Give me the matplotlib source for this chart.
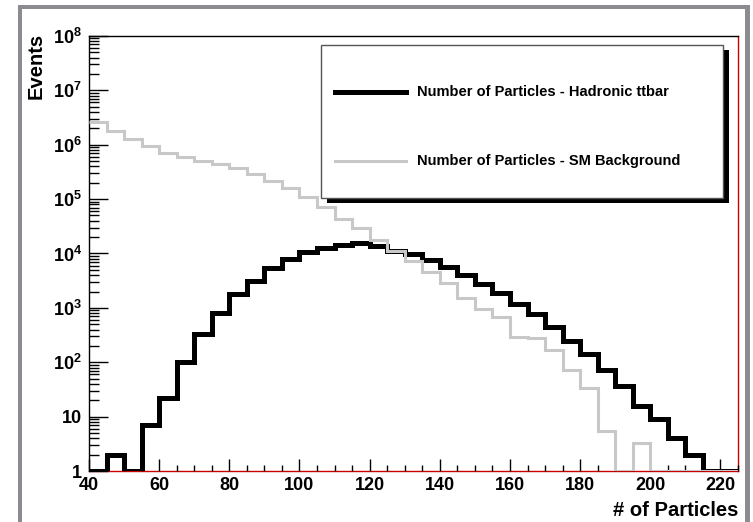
import numpy as np
import matplotlib
matplotlib.use("Agg")
from matplotlib import pyplot as plt
from matplotlib.patches import Rectangle
from matplotlib.lines import Line2D
from matplotlib.ticker import FixedLocator, FuncFormatter, LogLocator, NullFormatter, MultipleLocator

plt.rcParams['font.family'] = ['Liberation Sans', 'DejaVu Sans']
plt.rcParams['font.weight'] = 'bold'
plt.rcParams['mathtext.fontset'] = 'custom'
plt.rcParams['mathtext.rm'] = 'Liberation Sans:bold'
plt.rcParams['mathtext.bf'] = 'Liberation Sans:bold'

# bin edges (number of particles), 5 wide
edges = np.arange(40, 230, 5)

# hadronic ttbar
ttbar = [0, 2, 0, 7, 22, 102, 325, 790, 1800, 3100,
         5300, 7800, 10700, 12700, 14200, 15400, 13900, 11200, 9900, 7600,
         5700, 4100, 2800, 1900, 1170, 760, 450, 245, 141, 72,
         36, 16, 9, 4, 2, 0, 0]

# SM background
background = [2.57e6, 1.8e6, 1.26e6, 9.4e5, 7.1e5, 5.9e5, 5.0e5, 4.5e5, 3.7e5, 2.9e5,
              2.2e5, 1.6e5, 1.08e5, 7.1e4, 4.4e4, 2.9e4, 1.8e4, 1.12e4, 7.2e3, 4.6e3,
              2.9e3, 1.5e3, 950, 670, 288, 275, 167, 71, 33, 5.5,
              0, 3.3, 0, 0, 0, 0, 0]

labels = ["Number of Particles - Hadronic ttbar", "Number of Particles - SM Background"]

W, H = 753, 522
fig = plt.figure(figsize=(W / 100, H / 100), dpi=100)

def fx(x):
    return x / W

def fy(y):
    return 1 - y / H

# outer grey frame (window border)
frame_col = '#8c8c90'
fig.add_artist(Rectangle((fx(18), 0), fx(4), fy(5), transform=fig.transFigure, color=frame_col, lw=0))
fig.add_artist(Rectangle((fx(18), fy(9)), fx(732), 4 / H, transform=fig.transFigure, color=frame_col, lw=0))
fig.add_artist(Rectangle((fx(745), 0), fx(5), fy(5), transform=fig.transFigure, color=frame_col, lw=0))

ax = fig.add_axes([fx(89), fy(471), fx(738 - 89), (471 - 36) / H])

ax.stairs(np.maximum(ttbar, 1), edges, baseline=None, color='black', lw=3.6, zorder=3)
ax.stairs(np.maximum(background, 1), edges, baseline=None, color='#c8c8c8', lw=2.2, zorder=4)

ax.set_yscale('log')
ax.set_xlim(40, 225)
ax.set_ylim(1, 1e8)

for s in ['left', 'top']:
    ax.spines[s].set_color('black')
    ax.spines[s].set_linewidth(1.0)
for s in ['bottom', 'right']:
    ax.spines[s].set_color('#cc0000')
    ax.spines[s].set_linewidth(1.0)
    ax.spines[s].set_zorder(1)

ax.xaxis.set_major_locator(MultipleLocator(20))
ax.xaxis.set_minor_locator(MultipleLocator(5))
ax.yaxis.set_major_locator(FixedLocator([10.0 ** k for k in range(9)]))
ax.yaxis.set_minor_locator(LogLocator(base=10, subs=range(2, 10)))
ax.yaxis.set_minor_formatter(NullFormatter())

def ylab(v, pos):
    k = int(round(np.log10(v)))
    if k == 0:
        return '1'
    if k == 1:
        return '10'
    return r'$\mathbf{10^{%d}}$' % k

ax.yaxis.set_major_formatter(FuncFormatter(ylab))

ax.tick_params(axis='x', which='major', direction='in', length=8.6, width=1, color='black',
               labelsize=13, pad=4, top=False)
ax.tick_params(axis='x', which='minor', direction='in', length=4.3, width=1, color='black', top=False)
ax.tick_params(axis='y', which='major', direction='in', length=13.7, width=1, color='black',
               labelsize=13, pad=5, right=False)
ax.tick_params(axis='y', which='minor', direction='in', length=7, width=1, color='black', right=False)
for t in ax.get_xticklabels() + ax.get_yticklabels():
    t.set_fontweight('bold')

fig.text(fx(36), fy(33), 'Events', rotation=90, ha='center', va='top', fontsize=14.5, fontweight='bold')
fig.text(fx(738), fy(516), '# of Particles', ha='right', va='baseline', fontsize=14.5, fontweight='bold')

# legend box with black shadow
fig.add_artist(Rectangle((fx(327), fy(203)), fx(402), 153 / H, transform=fig.transFigure,
                         facecolor='black', edgecolor='black', lw=0, zorder=5))
fig.add_artist(Rectangle((fx(321), fy(198)), fx(402), 153 / H, transform=fig.transFigure,
                         facecolor='white', edgecolor='#555555', lw=1, zorder=6))
for yy, col, lw, lab in [(92, 'black', 3.6, labels[0]), (161, '#c8c8c8', 2.2, labels[1])]:
    fig.add_artist(Line2D([fx(335), fx(406)], [fy(yy), fy(yy)], transform=fig.transFigure,
                          color=col, lw=lw, zorder=7))
    fig.text(fx(417), fy(yy), lab, ha='left', va='center', fontsize=10.5, fontweight='bold', zorder=7)

fig.savefig('out.png', dpi=100)
